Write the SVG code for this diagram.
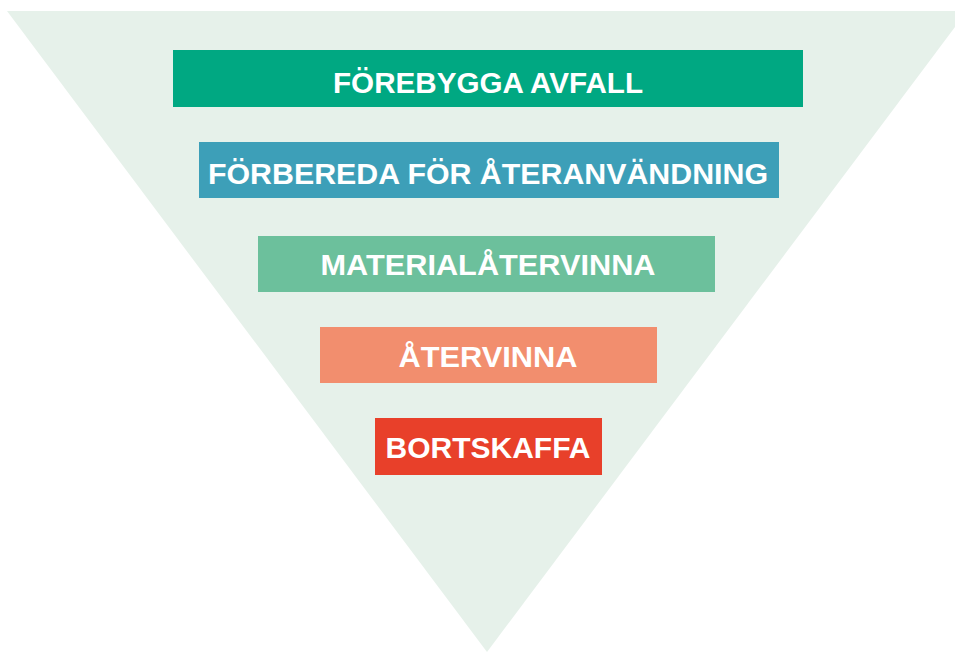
<svg xmlns="http://www.w3.org/2000/svg" width="955" height="653" viewBox="0 0 955 653">
<style>
.lbl{font-family:"Liberation Sans",Arial,sans-serif;font-weight:bold;font-size:29px;fill:#ffffff;text-anchor:middle}
</style>
<rect width="955" height="653" fill="#ffffff"/>
<polygon id="triangle" points="7,11 967,11 487,652" fill="#E6F1EA"/>
<g id="connectors"></g>
<g id="n1"><rect x="173" y="50" width="630" height="57" fill="#00A882"/><text class="lbl" x="488" y="93" textLength="310" lengthAdjust="spacingAndGlyphs">FÖREBYGGA AVFALL</text></g>
<g id="n2"><rect x="199" y="142" width="580" height="56" fill="#3D9FB8"/><text class="lbl" x="488" y="184" textLength="560" lengthAdjust="spacingAndGlyphs">FÖRBEREDA FÖR ÅTERANVÄNDNING</text></g>
<g id="n3"><rect x="258" y="236" width="457" height="56" fill="#6CC09C"/><text class="lbl" x="488" y="275" textLength="335" lengthAdjust="spacingAndGlyphs">MATERIALÅTERVINNA</text></g>
<g id="n4"><rect x="320" y="327" width="337" height="56" fill="#F28E6E"/><text class="lbl" x="488" y="367" textLength="179" lengthAdjust="spacingAndGlyphs">ÅTERVINNA</text></g>
<g id="n5"><rect x="375" y="418" width="227" height="57" fill="#E8402A"/><text class="lbl" x="488" y="458" textLength="205" lengthAdjust="spacingAndGlyphs">BORTSKAFFA</text></g>
</svg>
